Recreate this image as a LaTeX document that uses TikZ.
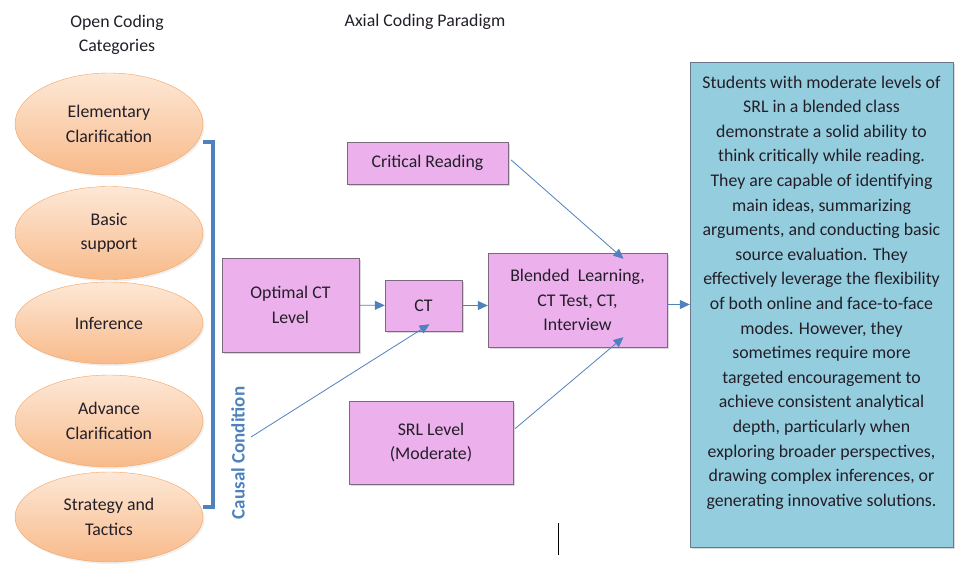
\documentclass[tikz,border=0pt]{standalone}
\usepackage{fontspec}
\setmainfont{Carlito}
\usetikzlibrary{arrows.meta,shapes.geometric,shadows}

\definecolor{ink}{RGB}{35,30,40}
\definecolor{cattop}{RGB}{253,232,214}
\definecolor{catbot}{RGB}{248,186,138}
\definecolor{catline}{RGB}{244,162,96}
\definecolor{boxfill}{RGB}{236,176,236}
\definecolor{boxline}{RGB}{125,105,125}
\definecolor{resfill}{RGB}{148,206,222}
\definecolor{resline}{RGB}{105,118,140}
\definecolor{linkblue}{RGB}{79,129,189}

\begin{document}
\begin{tikzpicture}[x=1pt, y=-1pt, font=\fontsize{17.8}{24.6}\selectfont,
	cat node/.style={ellipse, draw=catline, top color=cattop, bottom color=catbot, minimum width=188pt, align=center, text=ink, inner sep=0pt, drop shadow={opacity=0.12, shadow xshift=1.5pt, shadow yshift=-2pt}},
	box node/.style={rectangle, draw=boxline, fill=boxfill, align=center, text=ink, inner sep=0pt, drop shadow={opacity=0.3, shadow xshift=2pt, shadow yshift=-2pt}},
	flow/.style={-{Triangle[length=10pt,width=9pt]}, draw=linkblue, line width=0.8pt}]

	\useasboundingbox (0,0) rectangle (956,565);

	% headings
	\node[text=ink, align=center] (head1) at (117,35) {Open Coding\\Categories};
	\node[text=ink] (head2) at (425,22) {Axial Coding Paradigm};

	% open coding categories
	\node[cat node, minimum height=102pt] (1) at (109,124) {Elementary\\Clarification};
	\node[cat node, minimum height=93pt] (2) at (109,233) {Basic\\support};
	\node[cat node, minimum height=82pt] (3) at (109,323) {Inference};
	\node[cat node, minimum height=92pt] (4) at (109,421) {Advance\\Clarification};
	\node[cat node, minimum height=90pt] (5) at (109,517) {Strategy and\\Tactics};

	% bracket and its label
	\draw[linkblue, line width=3.5pt] (203,142) -- (213,142) -- (213,507) -- (203,507);
	\node[rotate=90, text=linkblue, font=\fontsize{19}{22}\selectfont\bfseries] (cause) at (238,453) {Causal Condition};
	\coordinate (cc) at (251,437);

	% paradigm boxes
	\node[box node, minimum width=161pt, minimum height=42pt] (cr) at (427.5,163) {Critical Reading};
	\node[box node, minimum width=137pt, minimum height=94pt] (opt) at (290.5,305) {Optimal CT\\Level};
	\node[box node, minimum width=77pt, minimum height=51pt] (ct) at (423.5,305.5) {CT};
	\node[box node, minimum width=179pt, minimum height=94pt] (bl) at (577.5,300) {Blended \ Learning,\\CT Test, CT,\\Interview};
	\node[box node, minimum width=164pt, minimum height=83pt] (srl) at (431,442.5) {SRL Level\\(Moderate)};

	% outcome
	\node[rectangle, draw=resline, fill=resfill, minimum width=263pt, minimum height=485pt, drop shadow={opacity=0.3, shadow xshift=2pt, shadow yshift=-2pt}] (res) at (821.5,304.5) {};
	\node[text=ink, align=center] (restext) at (821.5,292.5) {Students with moderate levels of\\SRL in a blended class\\demonstrate a solid ability to\\think critically while reading.\\They are capable of identifying\\main ideas, summarizing\\arguments, and conducting basic\\source evaluation. They\\effectively leverage the flexibility\\of both online and face-to-face\\modes. However, they\\sometimes require more\\targeted encouragement to\\achieve consistent analytical\\depth, particularly when\\exploring broader perspectives,\\drawing complex inferences, or\\generating innovative solutions.};

	% arrows
	\draw[flow] (opt) -- (ct);
	\draw[flow] (ct) -- (bl.west |- ct);
	\draw[flow] (bl.east |- res) -- (res.west);
	\draw[flow] (cr.east) ++(3,-3) -- ([xshift=46pt,yshift=-6pt]bl.north);
	\draw[flow] (cc) -- ([xshift=6pt,yshift=7pt]ct.south);
	\draw[flow] (srl.east) ++(2,-14) -- ([xshift=46pt,yshift=10pt]bl.south);

	% cursor mark
	\draw[black, line width=1pt] (558,523) -- (558,555);

\end{tikzpicture}
\end{document}
